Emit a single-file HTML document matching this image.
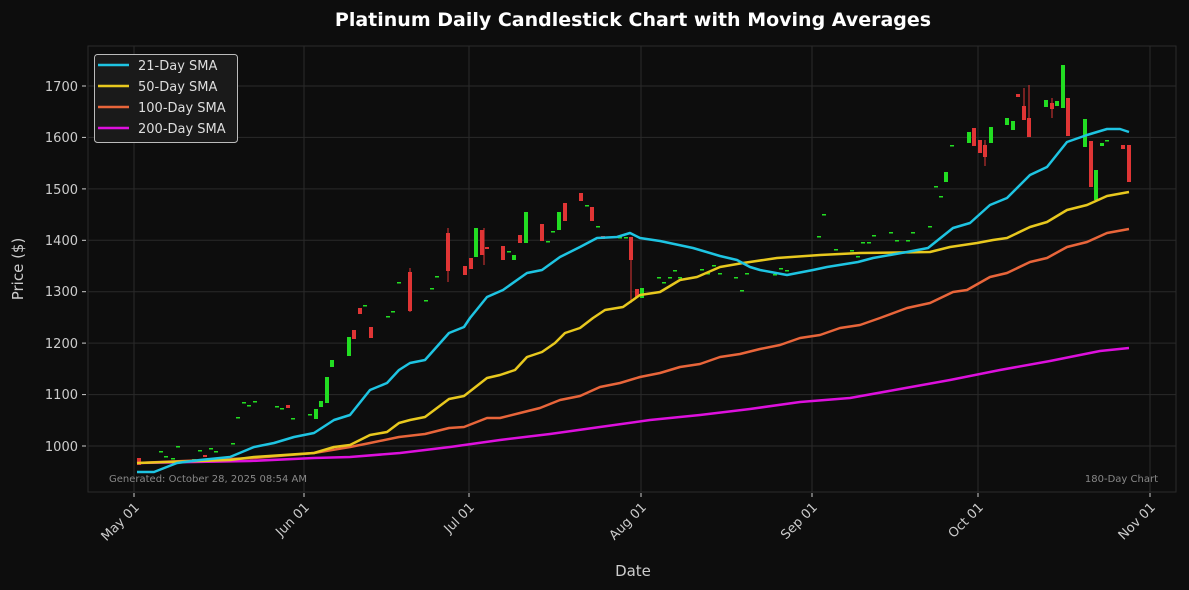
<!DOCTYPE html>
<html><head><meta charset="utf-8"><style>
html,body{margin:0;padding:0;background:#0d0d0d;}
svg{display:block;font-family:"DejaVu Sans","Liberation Sans",sans-serif;}
</style></head><body>
<svg width="1189" height="590" viewBox="0 0 1189 590" xmlns="http://www.w3.org/2000/svg">
<rect width="1189" height="590" fill="#0d0d0d"/>
<text x="633" y="26" fill="#fff" font-size="19" font-weight="bold" text-anchor="middle">Platinum Daily Candlestick Chart with Moving Averages</text>
<rect x="88" y="46" width="1088" height="446" fill="#0d0d0d" stroke="#2a2a2a" stroke-width="1"/>
<g stroke="#2a2a2a" stroke-width="1">
<line x1="88" x2="1176" y1="446" y2="446"/><line x1="88" x2="1176" y1="394.6" y2="394.6"/>
<line x1="88" x2="1176" y1="343.1" y2="343.1"/><line x1="88" x2="1176" y1="291.7" y2="291.7"/>
<line x1="88" x2="1176" y1="240.3" y2="240.3"/><line x1="88" x2="1176" y1="188.9" y2="188.9"/>
<line x1="88" x2="1176" y1="137.4" y2="137.4"/><line x1="88" x2="1176" y1="86" y2="86"/>
<line y1="46" y2="492" x1="134" x2="134"/><line y1="46" y2="492" x1="304" x2="304"/>
<line y1="46" y2="492" x1="469" x2="469"/><line y1="46" y2="492" x1="641" x2="641"/>
<line y1="46" y2="492" x1="812" x2="812"/><line y1="46" y2="492" x1="978" x2="978"/>
<line y1="46" y2="492" x1="1150" x2="1150"/>
</g>
<g fill="#ccc" font-size="13" text-anchor="end">
<text x="78" y="451">1000</text><text x="78" y="399">1100</text><text x="78" y="348">1200</text>
<text x="78" y="296">1300</text><text x="78" y="245">1400</text><text x="78" y="194">1500</text>
<text x="78" y="142">1600</text><text x="78" y="91">1700</text>
</g>
<g stroke="#ccc"><line x1="82" x2="86" y1="446" y2="446"/><line x1="82" x2="86" y1="394.6" y2="394.6"/><line x1="82" x2="86" y1="343.1" y2="343.1"/><line x1="82" x2="86" y1="291.7" y2="291.7"/><line x1="82" x2="86" y1="240.3" y2="240.3"/><line x1="82" x2="86" y1="188.9" y2="188.9"/><line x1="82" x2="86" y1="137.4" y2="137.4"/><line x1="82" x2="86" y1="86" y2="86"/>
<line y1="493" y2="497" x1="134" x2="134"/><line y1="493" y2="497" x1="304" x2="304"/><line y1="493" y2="497" x1="469" x2="469"/><line y1="493" y2="497" x1="641" x2="641"/><line y1="493" y2="497" x1="812" x2="812"/><line y1="493" y2="497" x1="978" x2="978"/><line y1="493" y2="497" x1="1150" x2="1150"/></g>
<g fill="#ccc" font-size="13" text-anchor="end">
<text transform="translate(140,508) rotate(-45)">May 01</text>
<text transform="translate(310,508) rotate(-45)">Jun 01</text>
<text transform="translate(475,508) rotate(-45)">Jul 01</text>
<text transform="translate(647,508) rotate(-45)">Aug 01</text>
<text transform="translate(818,508) rotate(-45)">Sep 01</text>
<text transform="translate(984,508) rotate(-45)">Oct 01</text>
<text transform="translate(1156,508) rotate(-45)">Nov 01</text>
</g>
<text x="633" y="576" fill="#ccc" font-size="15" text-anchor="middle">Date</text>
<text transform="translate(23,269) rotate(-90)" fill="#ccc" font-size="15" text-anchor="middle">Price ($)</text>
<text x="109" y="482" fill="#888" font-size="10">Generated: October 28, 2025 08:54 AM</text>
<text x="1158" y="482" fill="#888" font-size="10" text-anchor="end">180-Day Chart</text>

<g fill="#22dd22">
<rect x="159" y="451" width="4" height="1.5"/><rect x="164" y="456" width="4" height="1.5"/><rect x="171" y="458" width="4" height="1.5"/><rect x="176" y="446" width="4" height="1.5"/><rect x="192" y="459" width="4" height="1.5"/><rect x="198" y="450" width="4" height="1.5"/><rect x="209" y="448" width="4" height="1.5"/><rect x="214" y="451" width="4" height="1.5"/><rect x="231" y="443" width="4" height="1.5"/><rect x="236" y="417" width="4" height="1.5"/><rect x="242" y="402" width="4" height="1.5"/><rect x="247" y="405" width="4" height="1.5"/><rect x="253" y="401" width="4" height="1.5"/><rect x="275" y="406" width="4" height="1.5"/><rect x="280" y="408" width="4" height="1.5"/><rect x="291" y="418" width="4" height="1.5"/><rect x="308" y="414" width="4" height="1.5"/>
<rect x="314" y="409" width="4" height="10"/><rect x="319" y="401" width="4" height="6"/><rect x="325" y="377" width="4" height="26"/><rect x="330" y="360" width="4" height="7"/><rect x="347" y="337" width="4" height="19"/>
<rect x="363" y="305" width="4" height="1.5"/><rect x="386" y="316" width="4" height="1.5"/><rect x="391" y="311" width="4" height="1.5"/><rect x="397" y="282" width="4" height="1.5"/><rect x="424" y="300" width="4" height="1.5"/><rect x="430" y="288" width="4" height="1.5"/><rect x="435" y="276" width="4" height="1.5"/>
<rect x="474" y="228" width="4" height="29"/><rect x="507" y="251" width="4" height="1.5"/><rect x="512" y="255" width="4" height="5"/><rect x="524" y="212" width="4" height="31"/><rect x="546" y="241" width="4" height="1.5"/><rect x="551" y="231" width="4" height="1.5"/><rect x="557" y="212" width="4" height="18"/><rect x="585" y="205" width="4" height="1.5"/><rect x="596" y="226" width="4" height="1.5"/>
<rect x="618" y="237" width="4" height="1.5"/><rect x="624" y="237" width="4" height="1.5"/><rect x="640" y="288" width="4" height="10"/><rect x="657" y="277" width="4" height="1.5"/><rect x="662" y="282" width="4" height="1.5"/><rect x="668" y="277" width="4" height="1.5"/><rect x="673" y="270" width="4" height="1.5"/><rect x="678" y="277" width="4" height="1.5"/><rect x="700" y="269" width="4" height="1.5"/><rect x="706" y="273" width="4" height="1.5"/><rect x="712" y="265" width="4" height="1.5"/><rect x="718" y="273" width="4" height="1.5"/><rect x="734" y="277" width="4" height="1.5"/><rect x="740" y="290" width="4" height="1.5"/><rect x="745" y="273" width="4" height="1.5"/><rect x="773" y="274" width="4" height="1.5"/><rect x="779" y="268" width="4" height="1.5"/><rect x="785" y="270" width="4" height="1.5"/><rect x="817" y="236" width="4" height="1.5"/><rect x="822" y="214" width="4" height="1.5"/><rect x="834" y="249" width="4" height="1.5"/><rect x="850" y="250" width="4" height="1.5"/><rect x="856" y="256" width="4" height="1.5"/><rect x="861" y="242" width="4" height="1.5"/><rect x="867" y="242" width="4" height="1.5"/><rect x="872" y="235" width="4" height="1.5"/><rect x="889" y="232" width="4" height="1.5"/><rect x="895" y="240" width="4" height="1.5"/><rect x="906" y="240" width="4" height="1.5"/><rect x="911" y="232" width="4" height="1.5"/><rect x="928" y="226" width="4" height="1.5"/><rect x="934" y="186" width="4" height="1.5"/><rect x="939" y="196" width="4" height="1.5"/><rect x="944" y="172" width="4" height="10"/><rect x="950" y="145" width="4" height="1.5"/>
<rect x="967" y="132" width="4" height="11"/><rect x="989" y="127" width="4" height="16"/><rect x="1005" y="118" width="4" height="7"/><rect x="1011" y="121" width="4" height="9"/><rect x="1044" y="100" width="4" height="7"/><rect x="1055" y="101" width="4" height="5"/><rect x="1061" y="65" width="4" height="43"/><rect x="1083" y="119" width="4" height="28"/><rect x="1094" y="170" width="4" height="30"/><rect x="1100" y="143" width="4" height="3"/><rect x="1105" y="140" width="4" height="1.5"/>
</g>
<g fill="#e03535">
<rect x="137" y="458" width="4" height="7"/><rect x="203" y="455" width="4" height="2"/><rect x="286" y="405" width="4" height="3"/>
<rect x="352" y="330" width="4" height="9"/><rect x="358" y="308" width="4" height="6"/><rect x="369" y="327" width="4" height="11"/><rect x="408" y="272" width="4" height="39"/><rect x="446" y="233" width="4" height="38"/>
<rect x="463" y="266" width="4" height="9"/><rect x="469" y="258" width="4" height="11"/><rect x="480" y="230" width="4" height="25"/><rect x="485" y="247" width="4" height="2"/><rect x="501" y="246" width="4" height="14"/><rect x="518" y="235" width="4" height="8"/><rect x="540" y="224" width="4" height="17"/><rect x="563" y="203" width="4" height="18"/><rect x="579" y="193" width="4" height="8"/><rect x="590" y="207" width="4" height="14"/><rect x="601" y="236" width="4" height="3"/><rect x="629" y="237" width="4" height="23"/><rect x="635" y="289" width="4" height="8"/>
<rect x="972" y="128" width="4" height="18"/><rect x="978" y="140" width="4" height="13"/><rect x="983" y="145" width="4" height="12"/><rect x="1016" y="94" width="4" height="3"/><rect x="1022" y="106" width="4" height="14"/><rect x="1027" y="118" width="4" height="19"/><rect x="1050" y="103" width="4" height="6"/><rect x="1066" y="98" width="4" height="38"/><rect x="1089" y="141" width="4" height="46"/><rect x="1121" y="145" width="4" height="4"/><rect x="1127" y="145" width="4" height="37"/>
</g>
<g stroke="#e03535" stroke-width="1"><line x1="410" x2="410" y1="268" y2="312"/><line x1="448" x2="448" y1="228" y2="282"/><line x1="631" x2="631" y1="237" y2="303"/><line x1="484" x2="484" y1="228" y2="265"/><line x1="985" y1="140" x2="985" y2="166"/><line x1="1029" y1="85" x2="1029" y2="137"/><line x1="1024" y1="88" x2="1024" y2="106"/><line x1="1052" y1="98" x2="1052" y2="118"/></g>

<g fill="none" stroke-width="2.5" stroke-linejoin="round">
<polyline stroke="#dd10dd" points="137,463 250,461 314,458 350,457 400,453 450,447 500,440 550,434 600,427 650,420 700,415 750,409 800,402 850,398 900,389 950,380 1000,370 1050,361 1100,351 1129,348"/>
<polyline stroke="#e8653a" points="137,463 254,458 314,453 350,447 370,443 399,437 425,434 449,428 464,427 487,418 500,418 520,413 540,408 560,400 580,396 600,387 620,383 640,377 660,373 680,367 700,364 720,357 740,354 760,349 780,345 800,338 820,335 840,328 860,325 880,318 907,308 930,303 953,292 967,290 990,277 1007,273 1030,262 1047,258 1067,247 1087,242 1107,233 1129,229"/>
<polyline stroke="#e8c81e" points="137,463 230,460 254,457 314,453 334,447 350,445 370,435 387,432 399,423 410,420 425,417 449,399 464,396 487,378 500,375 515,370 527,357 542,352 555,343 565,333 580,328 593,318 605,310 623,307 640,295 660,292 680,280 697,277 720,267 743,263 777,258 820,255 860,253 930,252 950,247 977,243 993,240 1007,238 1030,227 1047,222 1067,210 1087,205 1107,196 1129,192"/>
<polyline stroke="#1ec4e2" points="137,472 154,472 177,463 200,460 230,457 254,447 274,443 294,437 314,433 334,420 350,415 370,390 387,383 399,370 410,363 425,360 449,333 464,327 470,318 487,297 503,290 527,273 542,270 560,257 580,247 597,238 617,237 630,233 640,238 660,241 693,248 720,256 737,260 750,267 760,270 787,275 813,270 827,267 858,262 873,258 907,252 928,248 953,228 970,223 990,205 1007,198 1030,175 1047,167 1067,142 1087,135 1107,129 1120,129 1129,132"/>
</g>

<rect x="94.5" y="54.5" width="143" height="88" rx="3" fill="#1a1a1a" stroke="#bbb" stroke-width="1"/>
<g stroke-width="2.5"><line x1="98" x2="129" y1="65" y2="65" stroke="#1ec4e2"/><line x1="98" x2="129" y1="86" y2="86" stroke="#e8c81e"/><line x1="98" x2="129" y1="107" y2="107" stroke="#e8653a"/><line x1="98" x2="129" y1="128" y2="128" stroke="#dd10dd"/></g>
<g fill="#ddd" font-size="13"><text x="138" y="70">21-Day SMA</text><text x="138" y="91">50-Day SMA</text><text x="138" y="112">100-Day SMA</text><text x="138" y="133">200-Day SMA</text></g>
</svg>
</body></html>
